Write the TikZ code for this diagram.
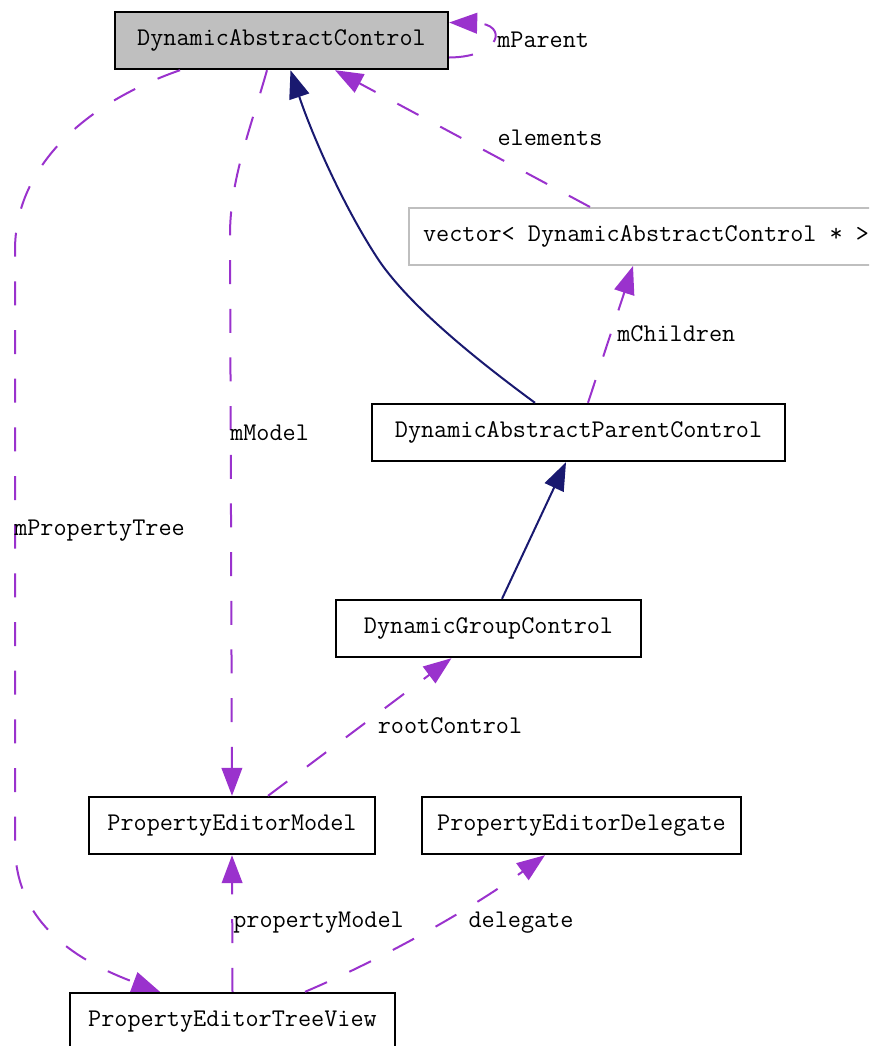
\documentclass[tikz,border=0pt]{standalone}
\usepackage{fontspec}
\usetikzlibrary{arrows.meta,calc}
\definecolor{member}{HTML}{9A32CD}
\definecolor{inherit}{HTML}{191970}
\definecolor{boxgray}{HTML}{BFBFBF}
\begin{document}
\begin{tikzpicture}[x=0.75pt,y=-0.75pt,
  font=\ttfamily\fontsize{19.1}{21}\selectfont,
  classbox/.style={draw=black,line width=1.8pt,inner sep=0pt,minimum height=42.75pt},
  usage/.style={draw=member,line width=1.5pt,dash pattern=on 18pt off 18.5pt,
    -{Triangle[length=21pt,width=15.5pt]}},
  derive/.style={draw=inherit,line width=1.5pt,-{Triangle[length=21pt,width=15.5pt]}},
  lbl/.style={inner sep=0pt}]
\useasboundingbox (0,0) rectangle (869,1046);
\clip (0,0) rectangle (869,1046);

% classes
\node[classbox,fill=boxgray,minimum width=249.75pt] (dac) at (281.5,40.5) {DynamicAbstractControl};
\node[classbox,draw=boxgray,line width=1.5pt,minimum width=355.5pt] (vec) at (646,236.5) {vector< DynamicAbstractControl * >};
\node[classbox,minimum width=309.75pt] (dapc) at (578.5,432.5) {DynamicAbstractParentControl};
\node[classbox,minimum width=228.75pt] (dgc) at (488.5,628.5) {DynamicGroupControl};
\node[classbox,minimum width=214.5pt] (pem) at (232,825.5) {PropertyEditorModel};
\node[classbox,minimum width=239.25pt] (ped) at (581.5,825.5) {PropertyEditorDelegate};
\node[classbox,minimum width=243.75pt] (petv) at (232.5,1021.5) {PropertyEditorTreeView};

% inheritance
\draw[derive] ($(dapc.north)+(-43.5,0)$) .. controls (470,355) and (410,305) .. (380,262)
  .. controls (345,210) and (312,135) .. ($(dac.south)+(9,0)$);
\draw[derive] ($(dgc.north)+(13.5,0)$) -- ($(dapc.south)+(-12.5,0)$);

% usage relations
\draw[usage] ($(dac.east)+(0,17)$) .. controls (502,57) and (508,24) .. ($(dac.east)+(0,-18)$);
\node[lbl,anchor=west] (lparent) at (497,40) {mParent};

\draw[usage] ($(vec.north)+(-56,0)$) -- ($(dac.south)+(53.5,0)$);
\node[lbl] (lelements) at (550,138) {elements};

\draw[usage] ($(dapc.north)+(9.5,0)$) -- ($(vec.south)+(-13,0)$);
\node[lbl,anchor=west] (lchildren) at (617,334) {mChildren};

\draw[usage] ($(pem.north)+(36,0)$) -- ($(dgc.south)+(-37,0)$);
\node[lbl] (lroot) at (450,726) {rootControl};

\draw[usage] ($(dac.south)+(-14.5,0)$) .. controls (250,130) and (230,180) .. (230,235) -- (pem.north);
\node[lbl,anchor=west] (lmodel) at (230,433) {mModel};

\draw[usage] ($(dac.south)+(-101.5,0)$) .. controls (80,105) and (15,170) .. (15,250) -- (15,845)
  .. controls (15,925) and (80,962) .. ($(petv.north)+(-72.5,0)$);
\node[lbl,anchor=west] (ltree) at (14,531) {mPropertyTree};

\draw[usage] (petv.north) -- (pem.south);
\node[lbl,anchor=west] (lpropmodel) at (233,923) {propertyModel};

\draw[usage] ($(petv.north)+(72.5,0)$) .. controls (380,960) and (470,910) .. ($(ped.south)+(-36.5,0)$);
\node[lbl] (ldelegate) at (521,923) {delegate};
\end{tikzpicture}
\end{document}
